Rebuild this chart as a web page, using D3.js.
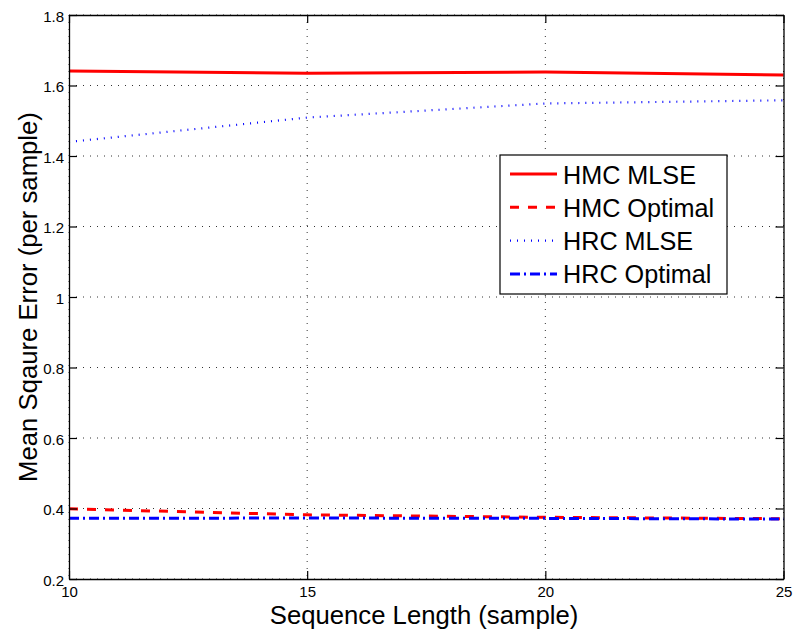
<!DOCTYPE html>
<html>
<head>
<meta charset="utf-8">
<script src="https://cdn.jsdelivr.net/npm/d3@7"></script>
<style>
  html, body { margin: 0; padding: 0; background: #fff; }
  svg { display: block; font-family: "Liberation Sans", Arial, sans-serif; }
</style>
</head>
<body>
<svg id="chart" width="795" height="634"></svg>
<script>
// ---- data ----
const seqLength = [10, 15, 20, 25];
const hmcMLSE = [1.641, 1.635, 1.638, 1.630];
const hmcOptimal = [0.399, 0.382, 0.375, 0.371];
const hrcMLSE = [1.440, 1.509, 1.549, 1.558];
const hrcOptimal = [0.372, 0.373, 0.372, 0.370];
const xTicks = [10, 15, 20, 25];
const yTicks = [0.2, 0.4, 0.6, 0.8, 1.0, 1.2, 1.4, 1.6, 1.8];
const seriesNames = ["HMC MLSE", "HMC Optimal", "HRC MLSE", "HRC Optimal"];

// ---- layout ----
const svg = d3.select("#chart");
const L = 69, R = 783.5, T = 15, B = 579;
const x = d3.scaleLinear().domain([10, 25]).range([L, R]);
const y = d3.scaleLinear().domain([0.2, 1.8]).range([B, T]);

const styles = [
  { color: "#ff0000", width: 3, dash: null },
  { color: "#ff0000", width: 3, dash: "9,9" },
  { color: "#0000ff", width: 2.2, dash: "1,6" },
  { color: "#0000ff", width: 3, dash: "10,4,2,4" }
];
const seriesData = [hmcMLSE, hmcOptimal, hrcMLSE, hrcOptimal];

// grid
const grid = svg.append("g");
xTicks.forEach(v => {
  grid.append("line").attr("x1", x(v)).attr("x2", x(v)).attr("y1", T).attr("y2", B)
    .attr("stroke", "#333").attr("stroke-width", 1).attr("stroke-dasharray", "1,6");
});
yTicks.forEach(v => {
  grid.append("line").attr("x1", L).attr("x2", R).attr("y1", y(v)).attr("y2", y(v))
    .attr("stroke", "#333").attr("stroke-width", 1).attr("stroke-dasharray", "1,6");
});

// lines
const line = d3.line().x((d, i) => x(seqLength[i])).y(d => y(d));
seriesData.forEach((s, i) => {
  const p = svg.append("path").datum(s).attr("d", line)
    .attr("fill", "none").attr("stroke", styles[i].color)
    .attr("stroke-width", styles[i].width);
  if (styles[i].dash) p.attr("stroke-dasharray", styles[i].dash);
});

// axes
const tickLen = 8;
const axB = svg.append("g").attr("transform", `translate(0,${B})`)
  .call(d3.axisBottom(x).tickValues(xTicks).tickFormat(d3.format("d")).tickSizeInner(-tickLen).tickSizeOuter(0));
const axT = svg.append("g").attr("transform", `translate(0,${T})`)
  .call(d3.axisTop(x).tickValues(xTicks).tickFormat("").tickSizeInner(-tickLen).tickSizeOuter(0));
const axL = svg.append("g").attr("transform", `translate(${L},0)`)
  .call(d3.axisLeft(y).tickValues(yTicks).tickFormat(d => d === 1 ? "1" : d3.format(".1f")(d)).tickSizeInner(-tickLen).tickSizeOuter(0).tickPadding(5));
const axR = svg.append("g").attr("transform", `translate(${R},0)`)
  .call(d3.axisRight(y).tickValues(yTicks).tickFormat("").tickSizeInner(-tickLen).tickSizeOuter(0));
[axB, axT, axL, axR].forEach(a => {
  a.select(".domain").attr("stroke", "#000").attr("stroke-width", 1.3);
  a.selectAll(".tick line").attr("stroke", "#000").attr("stroke-width", 1.2);
  a.selectAll("text").attr("font-size", 15).attr("fill", "#000")
    .attr("font-family", "'Liberation Sans', Arial, sans-serif");
});
axB.selectAll("text").attr("dy", "0").attr("y", 17.5);
axL.selectAll("text").attr("dy", "0.4em");

// axis labels
svg.append("text").attr("x", 424).attr("y", 624)
  .attr("text-anchor", "middle").attr("font-size", 25.7).attr("fill", "#000")
  .text("Sequence Length (sample)");
svg.append("text").attr("transform", `translate(37,297) rotate(-90)`)
  .attr("text-anchor", "middle").attr("font-size", 25.7).attr("fill", "#000")
  .text("Mean Sqaure Error (per sample)");

// legend
const lg = svg.append("g");
lg.append("rect").attr("x", 500).attr("y", 155).attr("width", 227).attr("height", 139)
  .attr("fill", "#fff").attr("stroke", "#000").attr("stroke-width", 1.2);
seriesNames.forEach((name, i) => {
  const cy = 174 + i * 33.3;
  const l = lg.append("line").attr("x1", 510).attr("x2", 557).attr("y1", cy).attr("y2", cy)
    .attr("stroke", styles[i].color).attr("stroke-width", styles[i].width);
  if (styles[i].dash) l.attr("stroke-dasharray", styles[i].dash);
  lg.append("text").attr("x", 563).attr("y", cy + 9.5).attr("font-size", 25.2)
    .attr("fill", "#000").text(name);
});
</script>
</body>
</html>
